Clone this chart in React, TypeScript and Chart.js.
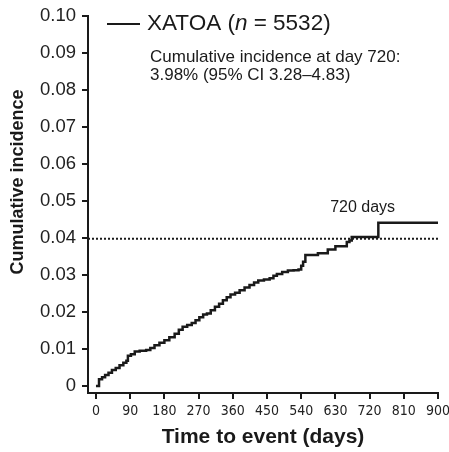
import React, { useEffect, useRef } from "react";
import { Chart, registerables } from "chart.js";

Chart.register(...registerables);

const days = [
  0, 8, 16, 24, 33, 42, 52, 62, 72, 80, 84, 92, 102, 115, 132, 143, 154, 167, 180, 193,
  207, 218, 228, 240, 252, 262, 272, 282, 292, 302, 313, 324, 334, 344, 354, 366, 378,
  391, 404, 416, 427, 442, 457, 467, 476, 490, 505, 520, 533, 540, 545, 551, 568, 584,
  610, 630, 660, 667, 673, 743, 900,
];
const incidence = [
  0, 0.0018, 0.0024, 0.003, 0.0036, 0.0043, 0.0049, 0.0056, 0.0063, 0.0068, 0.0082, 0.0086,
  0.0093, 0.0095, 0.0097, 0.0103, 0.011, 0.0117, 0.0124, 0.0132, 0.0141, 0.0152, 0.016,
  0.0165, 0.017, 0.0178, 0.0186, 0.0193, 0.0196, 0.0205, 0.0214, 0.0222, 0.0232, 0.024,
  0.0247, 0.0252, 0.0259, 0.0266, 0.0273, 0.028, 0.0285, 0.0288, 0.0291, 0.0298, 0.0303,
  0.0308, 0.0312, 0.0313, 0.0315, 0.0325, 0.0336, 0.0354, 0.0354, 0.0359, 0.0369, 0.0378,
  0.0389, 0.0393, 0.0403, 0.0441, 0.0441,
];
const xTicks = [0, 90, 180, 270, 360, 450, 540, 630, 720, 810, 900];
const yTicks = [0, 0.01, 0.02, 0.03, 0.04, 0.05, 0.06, 0.07, 0.08, 0.09, 0.1];
const refDay = 720;
const refLevel = 0.0398;
const refLabel = "720 days";
const seriesName = "XATOA";
const seriesN = "5532";
const noteLines = ["Cumulative incidence at day 720:", "3.98% (95% CI 3.28\u20134.83)"];
const xTitle = "Time to event (days)";
const yTitle = "Cumulative incidence";

const SANS = "'Liberation Sans', Arial, Helvetica, sans-serif";
const NARROW = "'Liberation Sans Narrow', 'DejaVu Sans Condensed', 'Liberation Sans', sans-serif";
const INK = "#1a1a1a";

export default function App() {
  const ref = useRef<HTMLCanvasElement>(null);

  useEffect(() => {
    document.body.style.margin = "0";
    const canvas = ref.current;
    if (!canvas) return;

    const annot = {
      id: "annot",
      afterDraw(chart: any) {
        const ctx = chart.ctx as CanvasRenderingContext2D;
        const area = chart.chartArea;
        const xs = chart.scales.x;
        const ys = chart.scales.y;
        ctx.save();
        // y axis title
        ctx.save();
        ctx.translate(18, 182);
        ctx.rotate(-Math.PI / 2);
        ctx.fillStyle = INK;
        ctx.font = `bold 18px ${SANS}`;
        ctx.textAlign = "center";
        ctx.textBaseline = "middle";
        ctx.fillText(yTitle, 0, 0);
        ctx.restore();
        // legend line
        ctx.strokeStyle = INK;
        ctx.lineWidth = 2;
        ctx.beginPath();
        ctx.moveTo(area.left + 19, 24);
        ctx.lineTo(area.left + 52, 24);
        ctx.stroke();
        // legend text
        ctx.fillStyle = INK;
        ctx.textBaseline = "middle";
        ctx.textAlign = "left";
        let x = area.left + 59;
        const y = 24;
        ctx.font = `22.5px ${SANS}`;
        const p1 = `${seriesName} (`;
        ctx.fillText(p1, x, y);
        x += ctx.measureText(p1).width;
        ctx.font = `italic 22.5px ${SANS}`;
        ctx.fillText("n", x, y);
        x += ctx.measureText("n").width;
        ctx.font = `22.5px ${SANS}`;
        ctx.fillText(` = ${seriesN})`, x, y);
        // note
        ctx.font = `17px ${SANS}`;
        ctx.fillText(noteLines[0], area.left + 62, 57);
        ctx.fillText(noteLines[1], area.left + 62, 75);
        // ref label
        ctx.textAlign = "center";
        ctx.font = `16px ${SANS}`;
        ctx.fillText(refLabel, xs.getPixelForValue(refDay) - 7, ys.getPixelForValue(refLevel) - 31);
        ctx.restore();
      },
    };

    const chart = new Chart(canvas, {
      type: "line",
      data: {
        datasets: [
          {
            data: days.map((d, i) => ({ x: d, y: incidence[i] })),
            stepped: true,
            borderColor: INK,
            borderWidth: 2.5,
            pointRadius: 0,
            fill: false,
          },
          {
            data: [
              { x: -21, y: refLevel },
              { x: 900, y: refLevel },
            ],
            borderColor: INK,
            borderWidth: 2,
            borderDash: [2, 2],
            pointRadius: 0,
            fill: false,
          },
        ],
      },
      options: {
        animation: false,
        responsive: false,
        maintainAspectRatio: false,
        layout: { padding: { top: 16, right: 11, left: 0, bottom: 0 } },
        plugins: { legend: { display: false }, tooltip: { enabled: false } },
        scales: {
          x: {
            type: "linear",
            min: -21,
            max: 900,
            afterBuildTicks: (s: any) => {
              s.ticks = xTicks.map((v) => ({ value: v }));
            },
            afterFit: (s: any) => {
              s.height = 59;
              s.paddingLeft = 0;
              s.paddingRight = 0;
            },
            grid: { drawOnChartArea: false, drawTicks: true, tickLength: 6, color: INK, lineWidth: 2 },
            border: { display: true, color: INK, width: 2 },
            ticks: {
              autoSkip: false,
              maxRotation: 0,
              padding: 4,
              color: "#222",
              font: { family: NARROW, size: 14 },
              callback: (v: any) => String(v),
            },
            title: {
              display: true,
              text: xTitle,
              color: INK,
              font: { family: SANS, size: 21, weight: "bold" },
              padding: { top: 0, bottom: 2 },
            },
          },
          y: {
            type: "linear",
            min: -0.00189,
            max: 0.1,
            afterBuildTicks: (s: any) => {
              s.ticks = yTicks.map((v) => ({ value: v }));
            },
            afterFit: (s: any) => {
              s.width = 88;
              s.paddingTop = 0;
              s.paddingBottom = 0;
            },
            grid: { drawOnChartArea: false, drawTicks: true, tickLength: 6, color: INK, lineWidth: 2 },
            border: { display: true, color: INK, width: 2 },
            ticks: {
              autoSkip: false,
              padding: 6,
              color: "#222",
              font: { family: SANS, size: 18.5 },
              callback: (v: any) => (v === 0 ? "0" : Number(v).toFixed(2)),
            },
            title: { display: false },
          },
        },
      },
      plugins: [annot],
    } as any);

    return () => chart.destroy();
  }, []);

  return <canvas ref={ref} width={449} height={452} style={{ display: "block" }} />;
}
